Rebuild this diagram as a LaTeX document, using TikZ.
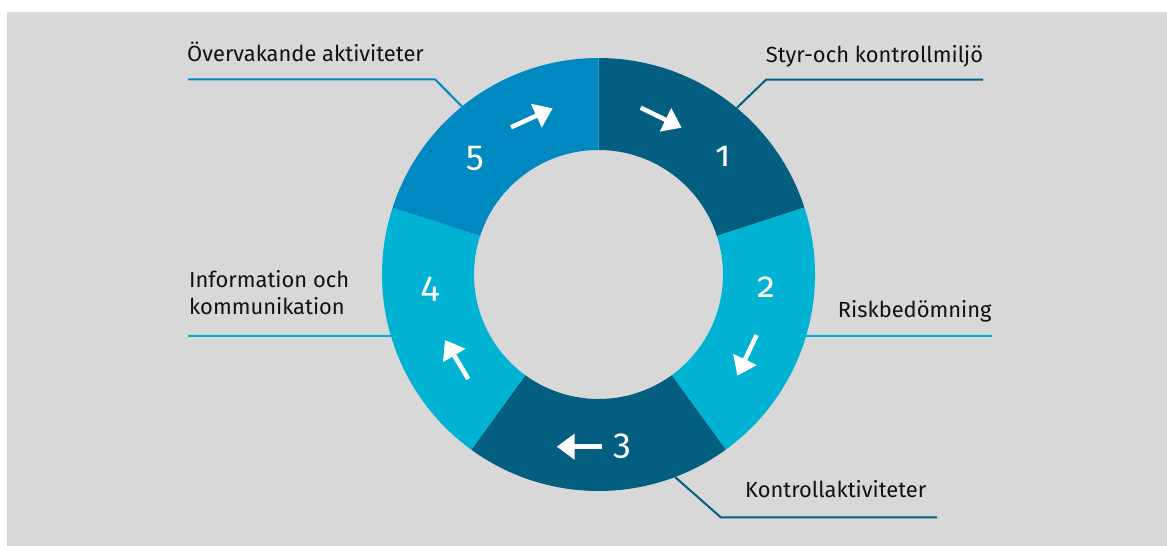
\documentclass[tikz,border=0pt]{standalone}
\usepackage{fontspec}
\setmainfont{Fira Sans}
\newfontfamily\numfont[Numbers=OldStyle]{Fira Sans}
\usetikzlibrary{arrows.meta,calc}
\definecolor{bggray}{HTML}{D8D8D8}
\definecolor{darkteal}{HTML}{045E80}
\definecolor{lightcyan}{HTML}{00B3D3}
\definecolor{midblue}{HTML}{0089C0}
\definecolor{txt}{HTML}{111111}
\tikzset{
  lbl/.style={anchor=base west, inner sep=0pt, text=txt, font=\fontsize{21.9}{26}\selectfont},
  num/.style={anchor=base, inner sep=0pt, text=white, font=\numfont\fontsize{36}{40}\selectfont},
  flow/.style={draw=white, line width=4.5pt, -{Triangle[length=18pt,width=25pt]}},
  leader/.style={line width=2pt},
}
\begin{document}
\begin{tikzpicture}[x=1pt,y=1pt]
\useasboundingbox (0,0) rectangle (1167,546);
\fill[bggray] (7,0) rectangle (1167,534);
\coordinate (c) at (598.5,271.5);
\def\Ro{216.5pt}
\def\Ri{124.5pt}
% segments
\foreach \a/\b/\col in {90/18/darkteal, 18/-54/lightcyan, -54/-126/darkteal, -126/-198/lightcyan, -198/-270/midblue}{
  \fill[\col] ($(c)+(\a:\Ro)$) arc[start angle=\a, end angle=\b, radius=\Ro]
     -- ($(c)+(\b:\Ri)$) arc[start angle=\b, end angle=\a, radius=\Ri] -- cycle;
}
% leader anchors on the ring
\coordinate (p5) at ($(c)+(129.1:\Ro)$);
\coordinate (p1) at ($(c)+(50.3:\Ro)$);
\coordinate (p2) at ($(c)+(-16.5:\Ro)$);
\coordinate (p4) at ($(c)+(196.5:\Ro)$);
\coordinate (p3) at ($(c)+(-69.3:\Ro)$);
\coordinate (k5) at (435,466.7);
\coordinate (e5) at (188,466.7);
\coordinate (k1) at (766,466.3);
\coordinate (e1) at (983,466.3);
\coordinate (e2) at (992,210);
\coordinate (e4) at (188,210);
\coordinate (k3) at (721,28.5);
\coordinate (e3) at (937,28.5);
\draw[leader, midblue] (p5) -- (k5) -- (e5);
\draw[leader, darkteal] (p1) -- (k1) -- (e1);
\draw[leader, lightcyan] (p2) -- (e2);
\draw[leader, lightcyan] (p4) -- (e4);
\draw[leader, darkteal] (p3) -- (k3) -- (e3);
% labels
\node[lbl] (l5) at (187,484.3) {Övervakande aktiviteter};
\node[lbl] (l1) at (765.7,483.7) {Styr-och kontrollmiljö};
\node[lbl] (l2) at (837.7,228.7) {Riskbedömning};
\node[lbl] (l4a) at (189,258.7) {Information och};
\node[lbl] (l4b) at (189,231.7) {kommunikation};
\node[lbl] (l3) at (745,48.7) {Kontrollaktiviteter};
% numbers
\node[num] (n1) at (722.7,379.3) {1};
\node[num] (n2) at (766.7,248.7) {2};
\node[num] (n3) at (622,91) {3};
\node[num] (n4) at (430,248.7) {4};
\node[num] (n5) at (475,379.3) {5};
% flow arrows
\coordinate (a1s) at (640.7,438.3); \coordinate (a1e) at (681.7,418.3);
\coordinate (a2s) at (756.7,211);   \coordinate (a2e) at (737.3,170.3);
\coordinate (a3s) at (601.7,99.3);  \coordinate (a3e) at (556.7,99.3);
\coordinate (a4s) at (468.3,167);   \coordinate (a4e) at (445,206);
\coordinate (a5s) at (511,418.7);   \coordinate (a5e) at (552.7,437.7);
\draw[flow] (a1s) -- (a1e);
\draw[flow] (a2s) -- (a2e);
\draw[flow] (a3s) -- (a3e);
\draw[flow] (a4s) -- (a4e);
\draw[flow] (a5s) -- (a5e);
\end{tikzpicture}
\end{document}
